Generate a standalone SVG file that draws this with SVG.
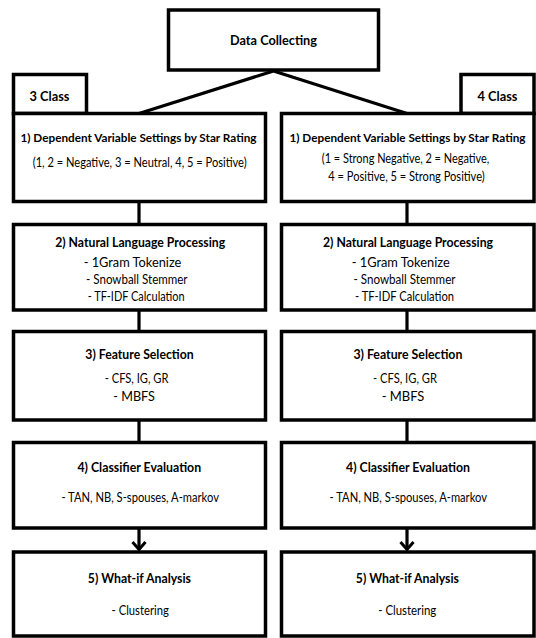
<svg xmlns="http://www.w3.org/2000/svg" width="536" height="638" viewBox="0 0 536 638">
<style>
.box{fill:#fff;stroke:#000;stroke-width:3.5;stroke-linejoin:miter}
.con{fill:none;stroke:#000;stroke-width:3.2}
text{font-family:Lato,"Liberation Sans",sans-serif;fill:#000;text-anchor:middle}
.t{font-weight:bold;font-size:13px}
.t1{font-weight:bold;font-size:12px}
.c{font-weight:bold;font-size:14px}
.s{font-size:13px}
</style>
<defs>
<marker id="arr" markerUnits="userSpaceOnUse" viewBox="0 0 12 16" refX="9" refY="8" markerWidth="12" markerHeight="16" orient="auto">
<path d="M1.5,1.5 L9,8 L1.5,14.5" fill="none" stroke="#000" stroke-width="3"/>
</marker>
</defs>
<rect width="536" height="638" fill="#fff"/>
<g id="connectors">
<path class="con" d="M273.5,71 L139,113.5 M273.5,71 L407,113.5"/>
<path class="con" d="M139,201.5 V224.5 M139,310 V331.5 M139,420 V442.5 M407,201.5 V224.5 M407,310 V331.5 M407,420 V442.5"/>
<path class="con" d="M139,528 V549.5" marker-end="url(#arr)"/>
<path class="con" d="M407,528 V549.5" marker-end="url(#arr)"/>
</g>
<g id="node-data">
<rect class="box" x="168.5" y="10" width="210" height="60"/>
<text class="t" x="273.5" y="44.5" textLength="87" lengthAdjust="spacingAndGlyphs">Data Collecting</text>
</g>
<g id="node-3class">
<rect class="box" x="13.5" y="74.5" width="73" height="39"/>
<text class="c" x="49.5" y="100.5" textLength="40" lengthAdjust="spacingAndGlyphs">3 Class</text>
</g>
<g id="node-4class">
<rect class="box" x="461" y="74.5" width="73" height="39"/>
<text class="c" x="497.5" y="100.5" textLength="40" lengthAdjust="spacingAndGlyphs">4 Class</text>
</g>
<g id="node-l1">
<rect class="box" x="13.5" y="113.5" width="252" height="88"/>
<text class="t1" x="138.5" y="142" textLength="236" lengthAdjust="spacingAndGlyphs">1) Dependent Variable Settings by Star Rating</text>
<text class="s" x="139.7" y="167" textLength="214" lengthAdjust="spacingAndGlyphs">(1, 2 = Negative, 3 = Neutral,  4, 5 = Positive)</text>
</g>
<g id="node-r1">
<rect class="box" x="281.5" y="113.5" width="252.5" height="88"/>
<text class="t1" x="407.5" y="142" textLength="236" lengthAdjust="spacingAndGlyphs">1) Dependent Variable Settings by Star Rating</text>
<text class="s" x="405.5" y="163" textLength="167.5" lengthAdjust="spacingAndGlyphs">(1 = Strong Negative, 2 = Negative,</text>
<text class="s" x="406.5" y="180.5" textLength="156.5" lengthAdjust="spacingAndGlyphs">4 = Positive, 5 = Strong Positive)</text>
</g>
<g id="node-l2">
<rect class="box" x="13.5" y="224.5" width="252" height="85.5"/>
<text class="t" x="140.2" y="246.5" textLength="170" lengthAdjust="spacingAndGlyphs">2) Natural Language Processing</text>
<text class="s" x="132.5" y="266.5" textLength="97.7" lengthAdjust="spacingAndGlyphs">-  1Gram Tokenize</text>
<text class="s" x="136.8" y="283.8" textLength="101.5" lengthAdjust="spacingAndGlyphs">-  Snowball Stemmer</text>
<text class="s" x="136.2" y="301" textLength="97" lengthAdjust="spacingAndGlyphs">-  TF-IDF Calculation</text>
</g>
<g id="node-r2">
<rect class="box" x="281.5" y="224.5" width="252.5" height="85.5"/>
<text class="t" x="408" y="246.5" textLength="170" lengthAdjust="spacingAndGlyphs">2) Natural Language Processing</text>
<text class="s" x="400.7" y="266.5" textLength="98" lengthAdjust="spacingAndGlyphs">-  1Gram Tokenize</text>
<text class="s" x="404.5" y="283.8" textLength="102" lengthAdjust="spacingAndGlyphs">-  Snowball Stemmer</text>
<text class="s" x="404.5" y="301" textLength="99" lengthAdjust="spacingAndGlyphs">-  TF-IDF Calculation</text>
</g>
<g id="node-l3">
<rect class="box" x="13.5" y="331.5" width="252" height="88.5"/>
<text class="t" x="139.5" y="359" textLength="108.3" lengthAdjust="spacingAndGlyphs">3) Feature Selection</text>
<text class="s" x="136.6" y="382.5" textLength="63.7" lengthAdjust="spacingAndGlyphs">-  CFS, IG, GR</text>
<text class="s" x="134.1" y="400.5" textLength="41.6" lengthAdjust="spacingAndGlyphs">-  MBFS</text>
</g>
<g id="node-r3">
<rect class="box" x="281.5" y="331.5" width="252.5" height="88.5"/>
<text class="t" x="407.9" y="359" textLength="109" lengthAdjust="spacingAndGlyphs">3) Feature Selection</text>
<text class="s" x="405" y="382.5" textLength="64" lengthAdjust="spacingAndGlyphs">-  CFS, IG, GR</text>
<text class="s" x="403" y="400.5" textLength="42.6" lengthAdjust="spacingAndGlyphs">-  MBFS</text>
</g>
<g id="node-l4">
<rect class="box" x="13.5" y="442.5" width="252" height="85.5"/>
<text class="t" x="139.3" y="471.7" textLength="123.7" lengthAdjust="spacingAndGlyphs">4) Classifier Evaluation</text>
<text class="s" x="140.2" y="502.3" textLength="157.5" lengthAdjust="spacingAndGlyphs">-  TAN, NB, S-spouses, A-markov</text>
</g>
<g id="node-r4">
<rect class="box" x="281.5" y="442.5" width="252.5" height="85.5"/>
<text class="t" x="408" y="471.7" textLength="124" lengthAdjust="spacingAndGlyphs">4) Classifier Evaluation</text>
<text class="s" x="408.3" y="502.3" textLength="157.4" lengthAdjust="spacingAndGlyphs">-  TAN, NB, S-spouses, A-markov</text>
</g>
<g id="node-l5">
<rect class="box" x="13.5" y="552" width="252" height="84"/>
<text class="t" x="139.4" y="583.3" textLength="103.2" lengthAdjust="spacingAndGlyphs">5) What-if Analysis</text>
<text class="s" x="140.2" y="615" textLength="57.2" lengthAdjust="spacingAndGlyphs">-  Clustering</text>
</g>
<g id="node-r5">
<rect class="box" x="281.5" y="552" width="252.5" height="84"/>
<text class="t" x="407.4" y="583.3" textLength="103.2" lengthAdjust="spacingAndGlyphs">5) What-if Analysis</text>
<text class="s" x="407.3" y="615" textLength="58" lengthAdjust="spacingAndGlyphs">-  Clustering</text>
</g>
</svg>
